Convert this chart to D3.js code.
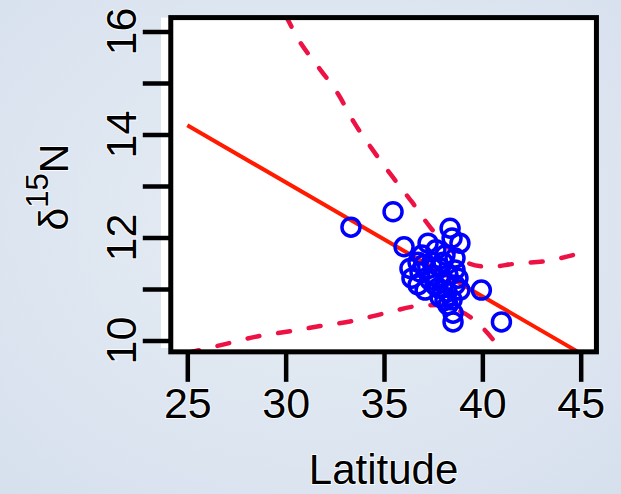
<!DOCTYPE html>
<html>
<head>
<meta charset="utf-8">
<script src="https://cdn.jsdelivr.net/npm/d3@7"></script>
<style>
  html, body { margin: 0; padding: 0; background: #dfe7f1; }
  svg { display: block; }
  text { font-family: "Liberation Sans", Arial, sans-serif; fill: #000; }
</style>
</head>
<body>
<svg id="chart" width="621" height="494"></svg>
<script>
// observed points (latitude, d15N)
const latitude = [33.32, 35.46, 36.02, 39.95, 40.97,
  38.36, 38.46, 38.86, 37.24, 37.64, 36.93, 38.10, 38.61, 37.44, 36.32,
  36.42, 36.83, 37.85, 38.25, 37.34, 38.61, 37.75, 37.09, 38.20, 38.61,
  36.73, 37.85, 38.46, 38.25, 38.51, 38.51, 37.49, 38.10, 38.86,
  37.01, 38.00, 37.59, 38.10, 38.76, 36.73]
const d15N = [12.20, 12.50, 11.82, 10.98, 10.36,
  12.18, 11.99, 11.89, 11.89, 11.76, 11.66, 11.66, 11.60, 11.52, 11.40,
  11.21, 11.33, 11.41, 11.27, 11.17, 11.37, 11.02, 10.98, 10.94, 11.08,
  11.08, 10.84, 10.79, 10.69, 10.53, 10.36, 11.27, 11.14, 10.98,
  11.47, 11.52, 11.08, 10.78, 11.21, 11.52]

// fitted line end points
const fitLat = [25, 45]
const fitN = [14.18, 9.75]

// upper and lower dashed bands
const upperLat = [25.0, 30.07, 30.58, 31.70, 32.66, 33.47, 34.39, 35.41, 36.42, 37.39, 38.46, 39.29, 40.31, 41.66, 43.18, 44.81, 45.0]
const upperN = [18.6, 16.26, 15.89, 15.29, 14.79, 14.24, 13.72, 13.19, 12.69, 12.18, 11.74, 11.50, 11.43, 11.49, 11.54, 11.68, 11.70]
const lowerLat = [25.0, 26.92, 28.44, 30.22, 31.75, 33.43, 35.05, 36.73, 37.85, 38.61, 39.37, 39.98, 40.64, 41.0, 41.4]
const lowerN = [9.76, 9.93, 10.07, 10.18, 10.28, 10.38, 10.53, 10.67, 10.69, 10.61, 10.46, 10.26, 9.97, 9.78, 9.55]

const xTicks = [25, 30, 35, 40, 45]
const yTicks = [10, 11, 12, 13, 14, 15, 16]
const yLabels = [10, 12, 14, 16]

const svg = d3.select("#chart")

const x = d3.scaleLinear().domain([25, 45]).range([187.3, 580.7])
const y = d3.scaleLinear().domain([10, 16]).range([340.5, 31.5])

const boxL = x(24.16), boxR = x(45.8), boxT = y(16.27), boxB = y(9.78)

// background
const defs = svg.append("defs")
const grad = defs.append("radialGradient").attr("id", "bg")
  .attr("cx", "50%").attr("cy", "45%").attr("r", "75%")
grad.append("stop").attr("offset", "0%").attr("stop-color", "#e7edf5")
grad.append("stop").attr("offset", "100%").attr("stop-color", "#d6e0ed")
svg.append("rect").attr("width", 621).attr("height", 494).attr("fill", "url(#bg)")

defs.append("clipPath").attr("id", "plotclip")
  .append("rect")
  .attr("x", boxL).attr("y", boxT)
  .attr("width", boxR - boxL).attr("height", boxB - boxT)

// white panel
svg.append("rect")
  .attr("x", 161).attr("y", boxT)
  .attr("width", boxR - 161).attr("height", 348 - boxT)
  .attr("fill", "#fff")
svg.append("rect")
  .attr("x", boxL).attr("y", boxT)
  .attr("width", boxR - boxL).attr("height", boxB - boxT)
  .attr("fill", "#fff")

const plot = svg.append("g").attr("clip-path", "url(#plotclip)")

const line = d3.line().x(d => x(d[0])).y(d => y(d[1]))
const band = d3.line().x(d => x(d[0])).y(d => y(d[1])).curve(d3.curveMonotoneX)

plot.append("path")
  .datum(d3.zip(upperLat, upperN))
  .attr("d", band)
  .attr("fill", "none")
  .attr("stroke", "#ee1144")
  .attr("stroke-width", 4.5)
  .attr("stroke-linecap", "round")
  .attr("stroke-dasharray", "12 19")

plot.append("path")
  .datum(d3.zip(lowerLat, lowerN))
  .attr("d", band)
  .attr("fill", "none")
  .attr("stroke", "#ee1144")
  .attr("stroke-width", 4.5)
  .attr("stroke-linecap", "round")
  .attr("stroke-dasharray", "12 19")

plot.append("path")
  .datum(d3.zip(fitLat, fitN))
  .attr("d", line)
  .attr("fill", "none")
  .attr("stroke", "#ff1a00")
  .attr("stroke-width", 4)

plot.append("g")
  .selectAll("circle")
  .data(d3.zip(latitude, d15N))
  .join("circle")
    .attr("cx", d => x(d[0]))
    .attr("cy", d => y(d[1]))
    .attr("r", 9)
    .attr("fill", "none")
    .attr("stroke", "#0000ff")
    .attr("stroke-width", 3.5)

// box
svg.append("rect")
  .attr("x", boxL).attr("y", boxT)
  .attr("width", boxR - boxL).attr("height", boxB - boxT)
  .attr("fill", "none")
  .attr("stroke", "#000")
  .attr("stroke-width", 5)

// x axis
const xAxis = svg.append("g").attr("transform", `translate(0,${boxB})`)
  .call(d3.axisBottom(x).tickValues(xTicks).tickSize(30).tickSizeOuter(0).tickPadding(6))
xAxis.select(".domain").remove()
xAxis.selectAll("line").attr("stroke", "#000").attr("stroke-width", 4.5)
xAxis.selectAll("text")
  .attr("font-size", 43)
  .attr("stroke", "rgba(255,255,255,0.85)")
  .attr("stroke-width", 2)
  .attr("paint-order", "stroke")

// y axis
const yAxis = svg.append("g").attr("transform", `translate(${boxL},0)`)
  .call(d3.axisLeft(y).tickValues(yTicks).tickSize(28).tickSizeOuter(0).tickFormat(""))
yAxis.select(".domain").remove()
yAxis.selectAll("line").attr("stroke", "#000").attr("stroke-width", 4.5)

svg.append("g")
  .selectAll("text")
  .data(yLabels)
  .join("text")
    .attr("transform", d => `translate(136,${y(d)}) rotate(-90)`)
    .attr("text-anchor", "middle")
    .attr("font-size", 43)
    .attr("stroke", "rgba(255,255,255,0.85)")
    .attr("stroke-width", 2)
    .attr("paint-order", "stroke")
    .text(d => d)

// axis titles
svg.append("text")
  .attr("x", (boxL + boxR) / 2)
  .attr("y", 484)
  .attr("text-anchor", "middle")
  .attr("font-size", 42)
  .attr("stroke", "rgba(255,255,255,0.85)")
  .attr("stroke-width", 2)
  .attr("paint-order", "stroke")
  .text("Latitude")

const ytitle = svg.append("text")
  .attr("transform", "translate(68,187) rotate(-90)")
  .attr("text-anchor", "middle")
  .attr("font-size", 41)
  .attr("stroke", "rgba(255,255,255,0.85)")
  .attr("stroke-width", 2)
  .attr("paint-order", "stroke")
ytitle.append("tspan").text("δ")
ytitle.append("tspan").attr("font-size", 31).attr("dy", -20).text("15")
ytitle.append("tspan").attr("dy", 20).text("N")
</script>
</body>
</html>
